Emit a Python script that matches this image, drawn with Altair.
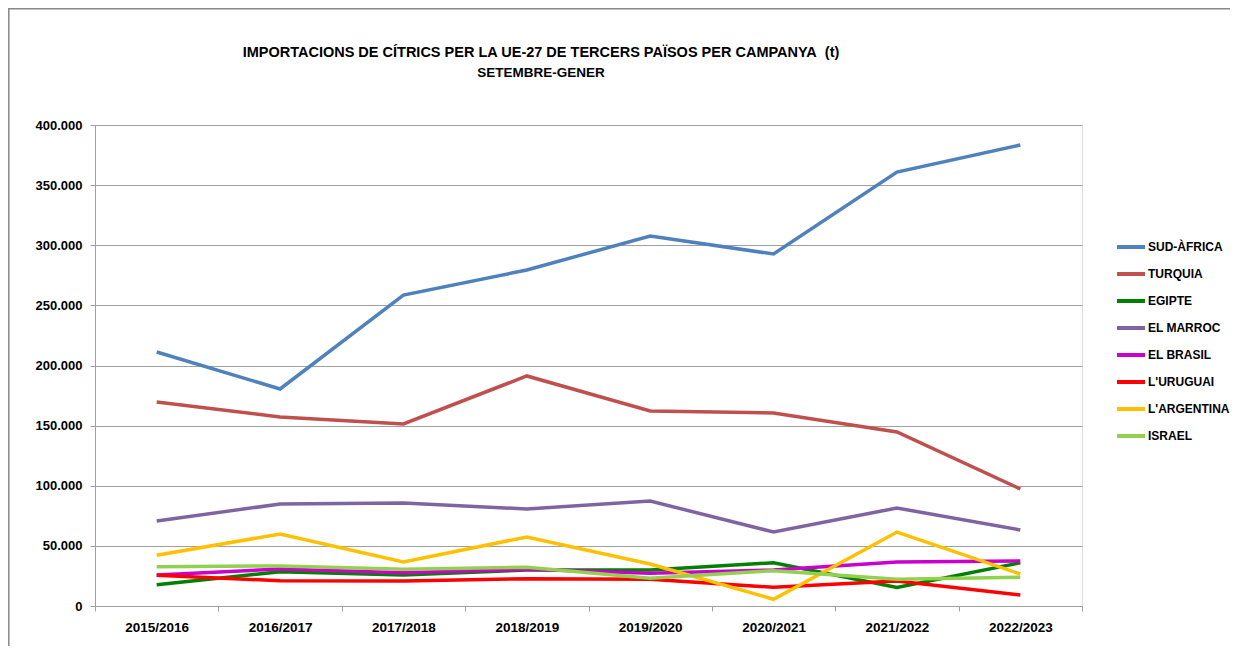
import altair as alt
import pandas as pd

campaigns = ["2015/2016", "2016/2017", "2017/2018", "2018/2019",
             "2019/2020", "2020/2021", "2021/2022", "2022/2023"]

series_names = ["SUD-ÀFRICA", "TURQUIA", "EGIPTE", "EL MARROC",
                "EL BRASIL", "L'URUGUAI", "L'ARGENTINA", "ISRAEL"]

sud_africa = [211200, 180500, 258600, 279400, 307700, 292700, 360900, 383400]
turquia = [169600, 157200, 151400, 191300, 162200, 160500, 144700, 97300]
egipte = [17700, 28500, 25800, 29900, 29900, 36000, 15500, 36000]
el_marroc = [70700, 84800, 85700, 80700, 87300, 61500, 81500, 63200]
el_brasil = [25800, 30800, 27700, 30500, 27200, 29900, 36600, 37400]
uruguai = [25500, 21000, 20800, 22700, 22200, 15500, 20800, 9100]
argentina = [42200, 59900, 36600, 57400, 34900, 5600, 61500, 26600]
israel = [32700, 33300, 30500, 32200, 23000, 29400, 22200, 23900]

title_lines = ["IMPORTACIONS DE CÍTRICS PER LA UE-27 DE TERCERS PAÏSOS PER CAMPANYA\u00a0\u00a0(t)",
               "SETEMBRE-GENER"]

colors = ["#4F81BD", "#C0504D", "#008000", "#8064A2",
          "#CC00CC", "#FF0000", "#FFC000", "#92D050"]

all_values = [sud_africa, turquia, egipte, el_marroc, el_brasil, uruguai, argentina, israel]

rows = []
for si, (name, vals) in enumerate(zip(series_names, all_values)):
    for c, v in zip(campaigns, vals):
        rows.append({"campanya": c, "pais": name, "t": v, "ord": si})
df = pd.DataFrame(rows)

FONT = "Liberation Sans"
GRAY = "#A0A0A0"

lines = alt.Chart(df).mark_line(strokeWidth=3.5, clip=False).encode(
    x=alt.X("campanya:O", sort=campaigns, bandPosition=0.5,
            scale=alt.Scale(type="band", paddingInner=0, paddingOuter=0),
            axis=alt.Axis(title=None, labelAngle=0, tickBand="extent", grid=False,
                          domainColor=GRAY, tickColor=GRAY, tickSize=5,
                          labelFont=FONT, labelFontSize=13.5, labelFontWeight="bold",
                          labelColor="black", labelPadding=9)),
    y=alt.Y("t:Q", scale=alt.Scale(domain=[0, 400000], nice=False),
            axis=alt.Axis(title=None, values=list(range(0, 400001, 50000)),
                          grid=True, gridColor=GRAY, domainColor=GRAY, tickColor=GRAY,
                          tickSize=5, labelFont=FONT, labelFontSize=13,
                          labelFontWeight="bold", labelColor="black", labelPadding=8,
                          labelExpr="replace(format(datum.value, ','), regexp(',', 'g'), '.')")),
    color=alt.Color("pais:N", sort=series_names,
                    scale=alt.Scale(domain=series_names, range=colors),
                    legend=alt.Legend(title=None, orient="none", legendX=1020, legendY=106,
                                      symbolType="stroke", symbolSize=784,
                                      symbolStrokeWidth=4, rowPadding=3,
                                      labelFont=FONT, labelFontSize=12,
                                      labelFontWeight="bold", labelColor="black",
                                      labelOffset=1)),
    order=alt.Order("ord:Q"),
)

frame = alt.Chart(pd.DataFrame({"a": [0]})).mark_rect(
    fill=None, stroke="#888888", strokeWidth=1.5, clip=False
).encode(x=alt.value(-86.2), x2=alt.value(1400), y=alt.value(-116.2), y2=alt.value(800))

title1 = alt.Chart(pd.DataFrame({"txt": [title_lines[0]]})).mark_text(
    font=FONT, fontSize=14.5, fontWeight="bold", color="black",
    align="center", baseline="middle", clip=False
).encode(text="txt:N", x=alt.value(446), y=alt.value(-72))

title2 = alt.Chart(pd.DataFrame({"txt": [title_lines[1]]})).mark_text(
    font=FONT, fontSize=13.5, fontWeight="bold", color="black",
    align="center", baseline="middle", clip=False
).encode(text="txt:N", x=alt.value(446), y=alt.value(-52))

chart = alt.layer(frame, title1, title2, lines).properties(
    width=987, height=481,
    padding={"left": 87, "top": 117, "right": 148, "bottom": 40},
    autosize=alt.AutoSizeParams(type="none"),
).configure_view(stroke=None).configure(background="white")

chart.save("out.html", embed_options={"renderer": "svg", "actions": False})
